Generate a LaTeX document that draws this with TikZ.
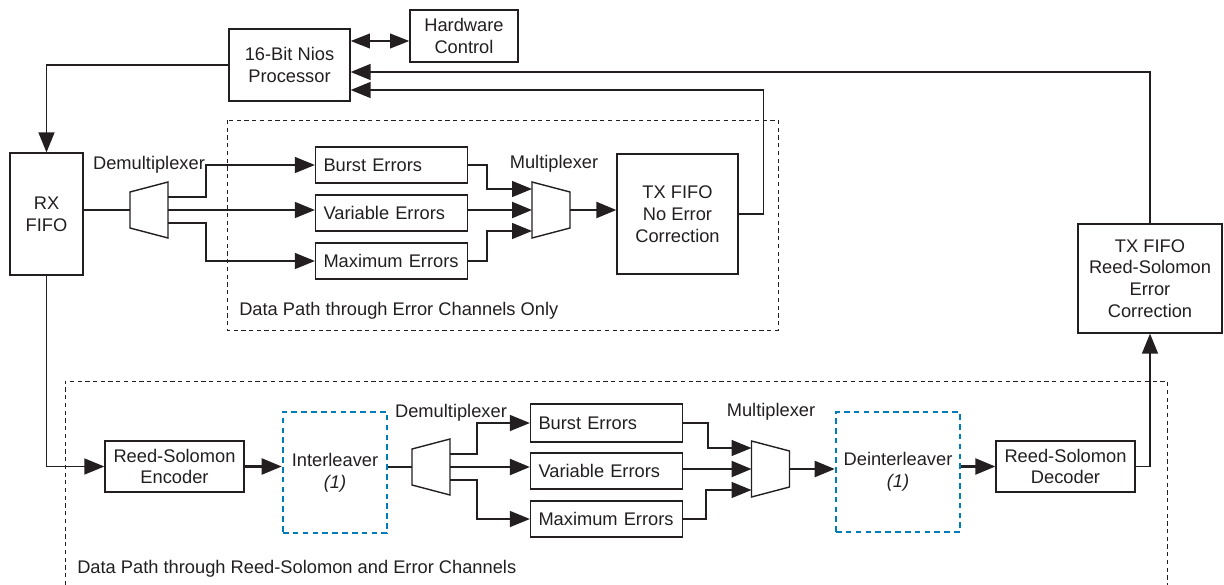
\documentclass[tikz,border=0pt]{standalone}
\usepackage{fontspec}
\setmainfont{Liberation Sans}
\usetikzlibrary{arrows.meta,calc}
\definecolor{ink}{RGB}{35,31,32}
\definecolor{dashblue}{RGB}{0,125,185}
\tikzset{
  blk/.style={draw=ink,line width=0.9pt,align=center,inner sep=0pt,text=ink},
  errbox/.style={blk,align=left,inner xsep=8*0.025cm,text width=136*0.025cm,minimum height=36*0.025cm},
  lbl/.style={text=ink,inner sep=0pt},
  wire/.style={draw=ink,line width=1pt},
  arr/.style={wire,-{Triangle[length=0.5cm,width=0.4cm]}},
  thickarr/.style={arr,line width=1.6pt},
  dblarr/.style={wire,line width=1.8pt,{Triangle[length=0.48cm,width=0.36cm]}-{Triangle[length=0.48cm,width=0.36cm]}},
  region/.style={draw=ink,line width=0.7pt,dash pattern=on 3pt off 2.5pt},
  bluebox/.style={blk,draw=dashblue,line width=1.8pt,dash pattern=on 4pt off 3pt},
  demux/.pic={
    \draw[wire] (-19,-18) -- (19,-28) -- (19,28) -- (-19,18) -- cycle;
    \coordinate (-in) at (-19,0);
    \coordinate (-o1) at (19,-13);
    \coordinate (-o2) at (19,0);
    \coordinate (-o3) at (19,13);
  },
  mux/.pic={
    \draw[wire] (-19,-28) -- (19,-18) -- (19,18) -- (-19,28) -- cycle;
    \coordinate (-in1) at (-19,-21);
    \coordinate (-in2) at (-19,0);
    \coordinate (-in3) at (-19,21);
    \coordinate (-out) at (19,0);
  }
}
\begin{document}
\begin{tikzpicture}[x=0.025cm,y=-0.025cm,font=\fontsize{13}{15.5}\selectfont]
\useasboundingbox (0,0) rectangle (1224,585);
% processor and control
\node[blk,minimum width=121*0.025cm,minimum height=72*0.025cm] (nios) at (289.5,65) {16-Bit Nios\\Processor};
\node[blk,minimum width=108*0.025cm,minimum height=52*0.025cm] (hw) at (464,36) {Hardware\\Control};
\node[blk,minimum width=73*0.025cm,minimum height=122*0.025cm] (rx) at (46.5,214) {RX\\FIFO};
% error channels only
\draw[region] (227,120) rectangle (778,330);
\pic (dm1) at (149,210) {demux};
\node[lbl] (dm1lbl) at (149,165) {Demultiplexer};
\node[errbox] (burst1) at (391.5,165) {Burst Errors};
\node[errbox] (var1) at (391.5,213) {Variable Errors};
\node[errbox] (max1) at (391.5,261) {Maximum Errors};
\pic (mx1) at (551,210) {mux};
\node[lbl] (mx1lbl) at (554,164) {Multiplexer};
\node[blk,minimum width=121*0.025cm,minimum height=120*0.025cm] (txno) at (677.5,214) {TX FIFO\\No Error\\Correction};
\node[lbl,anchor=west] (path1) at (239,311) {Data Path through Error Channels Only};
% reed-solomon path
\draw[region] (65,585) |- (1167,381) -- (1167,585);
\node[blk,minimum width=139*0.025cm,minimum height=51*0.025cm] (enc) at (174.5,466.5) {Reed-Solomon\\Encoder};
\node[bluebox,minimum width=104*0.025cm,minimum height=121*0.025cm] (intl) at (335,472.5) {Interleaver\\\textit{(1)}};
\pic (dm2) at (431,467) {demux};
\node[lbl] (dm2lbl) at (451,413) {Demultiplexer};
\node[errbox,minimum height=38*0.025cm] (burst2) at (606.5,423) {Burst Errors};
\node[errbox] (var2) at (606.5,471) {Variable Errors};
\node[errbox] (max2) at (606.5,519) {Maximum Errors};
\pic (mx2) at (770.5,469) {mux};
\node[lbl] (mx2lbl) at (771,412) {Multiplexer};
\node[bluebox,minimum width=124*0.025cm,minimum height=120*0.025cm] (deint) at (898,472) {Deinterleaver\\\textit{(1)}};
\node[blk,minimum width=139*0.025cm,minimum height=51*0.025cm] (dec) at (1065.5,466.5) {Reed-Solomon\\Decoder};
\node[blk,minimum width=144*0.025cm,minimum height=109*0.025cm] (txrs) at (1150,278.5) {TX FIFO\\Reed-Solomon\\Error\\Correction};
\node[lbl,anchor=west] (path2) at (77,569) {Data Path through Reed-Solomon and Error Channels};
% connections
\draw[dblarr] (nios.east |- 0,41) -- (hw.west |- 0,41);
\draw[arr] (nios.west) -| (rx.north);
\draw[arr] (txrs.north) |- (nios.east |- 0,72);
\draw[arr] (txno.east) -- ++(25,0) |- (nios.east |- 0,90);
\draw[wire] (rx.east |- dm1-in) -- (dm1-in);
\draw[arr] (dm1-o1) -- ++(38,0) |- (burst1.west);
\draw[arr] (dm1-o2) -- (var1.west |- dm1-o2);
\draw[arr] (dm1-o3) -- ++(38,0) |- (max1.west);
\draw[arr] (burst1.east) -- ++(19,0) |- (mx1-in1);
\draw[thickarr] (var1.east |- mx1-in2) -- (mx1-in2);
\draw[arr] (max1.east) -- ++(19,0) |- (mx1-in3);
\draw[thickarr] (mx1-out) -- (txno.west |- mx1-out);
\draw[arr] (rx.south) |- (enc.west);
\draw[thickarr] (enc.east) -- (intl.west |- enc.east);
\draw[wire,line width=1.6pt] (intl.east |- dm2-in) -- (dm2-in);
\draw[arr] (dm2-o1) -- ++(27,0) |- (burst2.west);
\draw[thickarr] (dm2-o2) -- (var2.west |- dm2-o2);
\draw[arr] (dm2-o3) -- ++(27,0) |- (max2.west);
\draw[arr] (burst2.east) -- ++(25,0) |- (mx2-in1);
\draw[thickarr] (var2.east |- mx2-in2) -- (mx2-in2);
\draw[arr] (max2.east) -- ++(23,0) |- (mx2-in3);
\draw[thickarr] (mx2-out) -- (deint.west |- mx2-out);
\draw[thickarr] (deint.east |- dec.west) -- (dec.west);
\draw[arr] (dec.east) -| (txrs.south);
\end{tikzpicture}
\end{document}
